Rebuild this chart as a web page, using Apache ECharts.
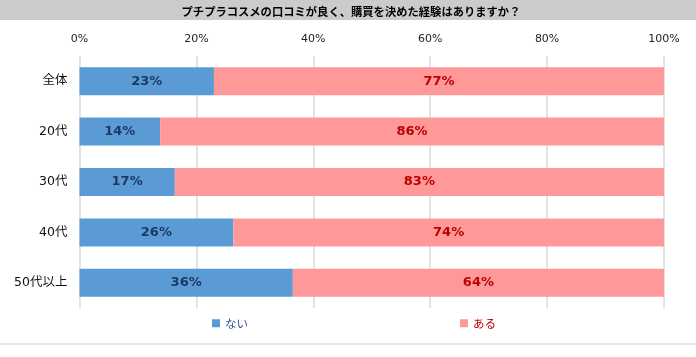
<!DOCTYPE html>
<html><head><meta charset="utf-8">
<script src="https://cdn.jsdelivr.net/npm/echarts@6/dist/echarts.min.js"></script>
<style>html,body{margin:0;padding:0;background:#fff}#c{width:696px;height:357px}</style>
</head><body><div id="c"></div>
<script>
const title = 'プチプラコスメの口コミが良く、購買を決めた経験はありますか？';
const categories = ['全体','20代','30代','40代','50代以上'];
const seriesNames = ['ない','ある'];
const naiValues = [23.0,13.8,16.3,26.3,36.5];
const aruValues = [77.0,86.2,83.7,73.7,63.5];
const naiLabels = ['23%','14%','17%','26%','36%'];
const aruLabels = ['77%','86%','83%','74%','64%'];
const tickLabels = ['0%','20%','40%','60%','80%','100%'];

const chart = echarts.init(document.getElementById('c'));
const font = '"Noto Sans CJK JP", "Noto Sans", sans-serif';
const numFont = '"DejaVu Sans", "Noto Sans CJK JP", sans-serif';
chart.setOption({
  animation:false,
  textStyle:{fontFamily:font},
  graphic:[
    {type:'rect',shape:{x:0,y:0,width:696,height:20},style:{fill:'#cbcbcb'},z:0},
    {type:'rect',shape:{x:0,y:343,width:696,height:2},style:{fill:'#e6e6e6'},z:0},
    {type:'text',x:351,y:12,style:{text:title,font:'bold 11.3px '+font,fill:'#000',align:'center',verticalAlign:'middle'}}
  ],
  legend:{
    bottom:23,left:207,itemGap:212,itemWidth:8,itemHeight:8,icon:'rect',itemTextGap:4,
    textStyle:{fontSize:11.5,fontFamily:font},
    data:[{name:'ない',textStyle:{color:'#2f5597'}},{name:'ある',textStyle:{color:'#c00000'}}]
  },
  grid:{left:79.5,right:32,top:56,height:252,containLabel:false},
  xAxis:{type:'value',position:'top',min:0,max:100,interval:20,
    axisLabel:{formatter:v=>tickLabels[Math.round(v/20)],color:'#222',fontSize:11,fontFamily:numFont,margin:11},
    axisLine:{show:false},axisTick:{show:false},
    splitLine:{lineStyle:{color:'#e3e3e3',width:2}}},
  yAxis:{type:'category',inverse:true,data:categories,
    axisLine:{show:false},axisTick:{show:false},
    axisLabel:{color:'#111',fontSize:12.5,fontFamily:numFont,margin:12}},
  series:[
    {name:seriesNames[0],type:'bar',stack:'s',data:naiValues,barWidth:28,
     itemStyle:{color:'#5b9bd5'},
     label:{show:true,position:'inside',formatter:p=>naiLabels[p.dataIndex],color:'#1f3864',fontWeight:'bold',fontSize:13,fontFamily:numFont}},
    {name:seriesNames[1],type:'bar',stack:'s',data:aruValues,barWidth:28,
     itemStyle:{color:'#ff9999'},
     label:{show:true,position:'inside',formatter:p=>aruLabels[p.dataIndex],color:'#c00000',fontWeight:'bold',fontSize:13,fontFamily:numFont}}
  ]
});
</script></body></html>
